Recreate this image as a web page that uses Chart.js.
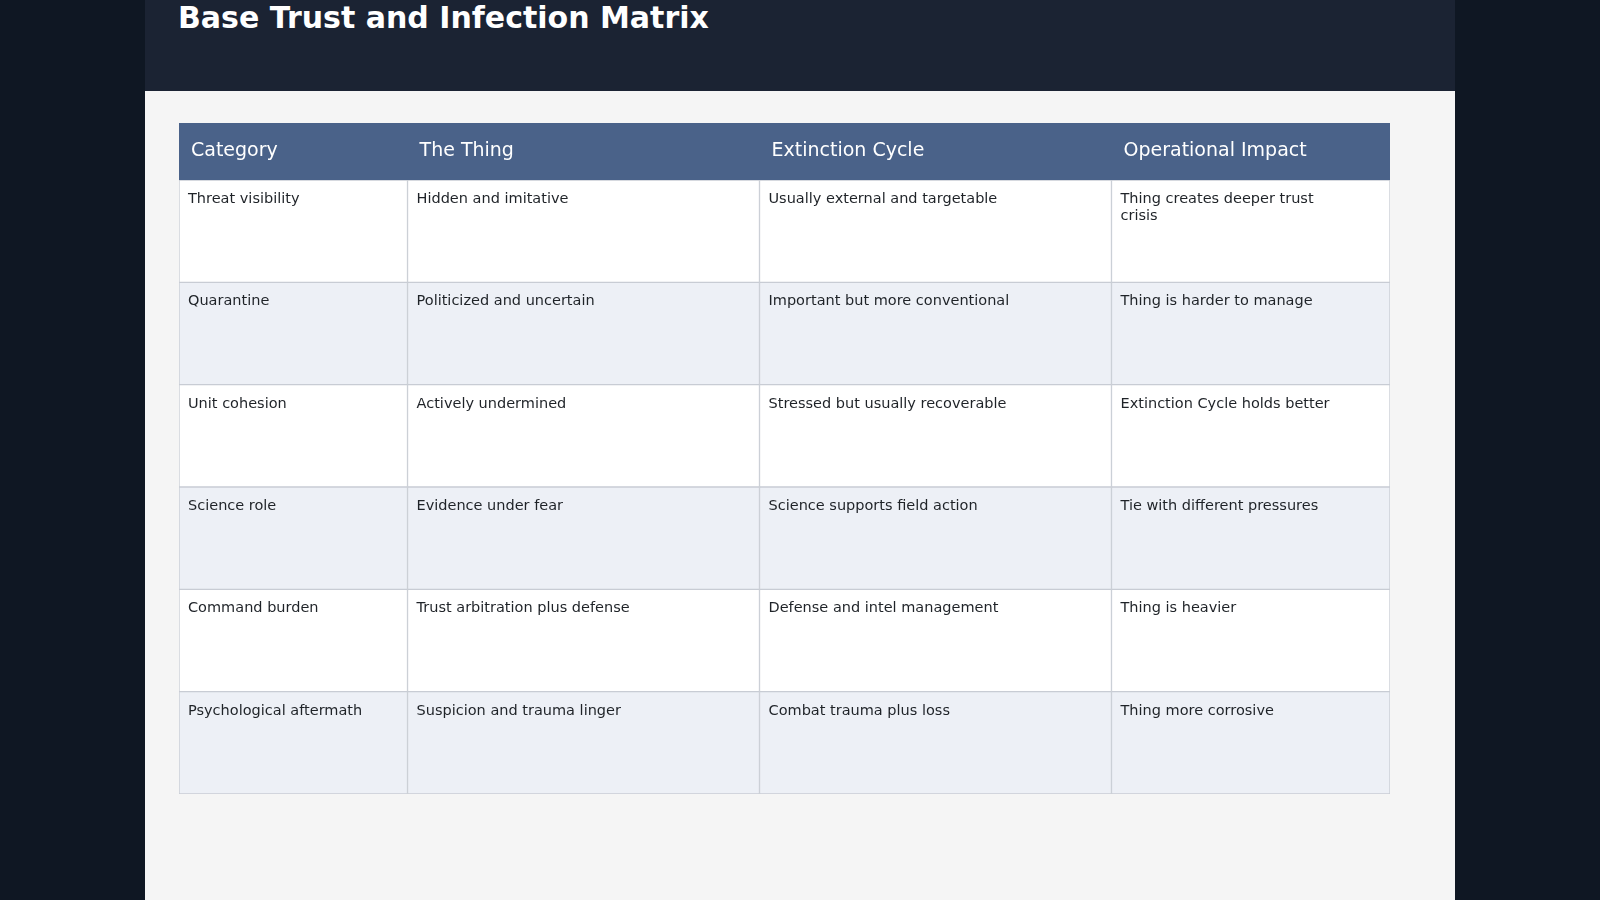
<!DOCTYPE html>
<html>
<head>
<meta charset="utf-8">
<script src="https://cdn.jsdelivr.net/npm/chart.js@4/dist/chart.umd.min.js"></script>
<style>
  html, body { margin: 0; padding: 0; width: 1600px; height: 900px; background: #0f1723; overflow: hidden; }
  #panel { position: absolute; left: 145px; top: 0; width: 1310px; height: 900px; background: #f5f5f5; }
  #bar { height: 91px; background: #1b2333; }
  #bar h1 { margin: 0; padding: 0 0 0 33px; line-height: 84px; font: bold 30px "DejaVu Sans", sans-serif; color: #fff; }
  #wrap { position: absolute; left: 0; top: 91px; width: 1310px; height: 809px; }
</style>
</head>
<body>
<div id="panel">
  <div id="bar"><h1>Base Trust and Infection Matrix</h1></div>
  <div id="wrap"><canvas id="c"></canvas></div>
</div>
<script>
const headers = ['Category', 'The Thing', 'Extinction Cycle', 'Operational Impact'];
const categories = ['Threat visibility', 'Quarantine', 'Unit cohesion', 'Science role', 'Command burden', 'Psychological aftermath'];
const theThing = ['Hidden and imitative', 'Politicized and uncertain', 'Actively undermined', 'Evidence under fear', 'Trust arbitration plus defense', 'Suspicion and trauma linger'];
const extinctionCycle = ['Usually external and targetable', 'Important but more conventional', 'Stressed but usually recoverable', 'Science supports field action', 'Defense and intel management', 'Combat trauma plus loss'];
const operationalImpact = ['Thing creates deeper trust crisis', 'Thing is harder to manage', 'Extinction Cycle holds better', 'Tie with different pressures', 'Thing is heavier', 'Thing more corrosive'];

// column boundaries (relative widths)
const colEdges = [0, 224, 569, 914, 1187];
const columns = [categories, theThing, extinctionCycle, operationalImpact];
const rowColors = categories.map((_, i) => (i % 2 ? '#edf0f6' : '#ffffff'));

const HEADER_H = 57;
const wrapWidth = [210, 320, 320, 210];

function wrapText(ctx, text, maxW) {
  const words = text.split(' ');
  const lines = [];
  let line = '';
  words.forEach((w) => {
    const t = line ? line + ' ' + w : w;
    if (ctx.measureText(t).width > maxW && line) { lines.push(line); line = w; } else line = t;
  });
  if (line) lines.push(line);
  return lines;
}

const tablePlugin = {
  id: 'tableText',
  afterDatasetsDraw(chart) {
    const { ctx, chartArea, scales } = chart;
    const x0 = scales.x.getPixelForValue(colEdges[0]);
    const x1 = scales.x.getPixelForValue(colEdges[colEdges.length - 1]);
    ctx.save();
    ctx.fillStyle = '#4a6289';
    ctx.fillRect(x0, chartArea.top - HEADER_H, x1 - x0, HEADER_H);
    ctx.font = '19px "DejaVu Sans", sans-serif';
    ctx.fillStyle = '#ffffff';
    ctx.textBaseline = 'middle';
    headers.forEach((h, c) => {
      ctx.fillText(h, scales.x.getPixelForValue(colEdges[c]) + 12, chartArea.top - HEADER_H / 2);
    });
    ctx.font = '14.5px "DejaVu Sans", sans-serif';
    ctx.fillStyle = '#1f2328';
    ctx.textBaseline = 'top';
    columns.forEach((col, c) => {
      const meta = chart.getDatasetMeta(c);
      col.forEach((txt, r) => {
        const el = meta.data[r];
        const p = el.getProps(['base', 'y', 'height'], true);
        const top = p.y - p.height / 2;
        wrapText(ctx, txt, wrapWidth[c]).forEach((ln, i) => {
          ctx.fillText(ln, p.base + 9, top + 12 + i * 17);
        });
      });
    });
    ctx.restore();
  },
};

new Chart(document.getElementById('c'), {
  type: 'bar',
  data: {
    labels: categories,
    datasets: columns.map((col, c) => ({
      data: col.map(() => [colEdges[c], colEdges[c + 1]]),
      backgroundColor: rowColors,
      borderColor: '#c8ccd4',
      borderWidth: 1,
      borderSkipped: false,
      barPercentage: 1,
      categoryPercentage: 1,
    })),
  },
  options: {
    indexAxis: 'y',
    responsive: true,
    maintainAspectRatio: false,
    animation: false,
    layout: { padding: { left: 34, right: 65, top: 89, bottom: 106 } },
    plugins: { legend: { display: false }, tooltip: { enabled: false }, title: { display: false } },
    scales: {
      x: { display: false, min: colEdges[0], max: colEdges[colEdges.length - 1] },
      y: { display: false, stacked: true },
    },
  },
  plugins: [tablePlugin],
});
</script>
</body>
</html>
